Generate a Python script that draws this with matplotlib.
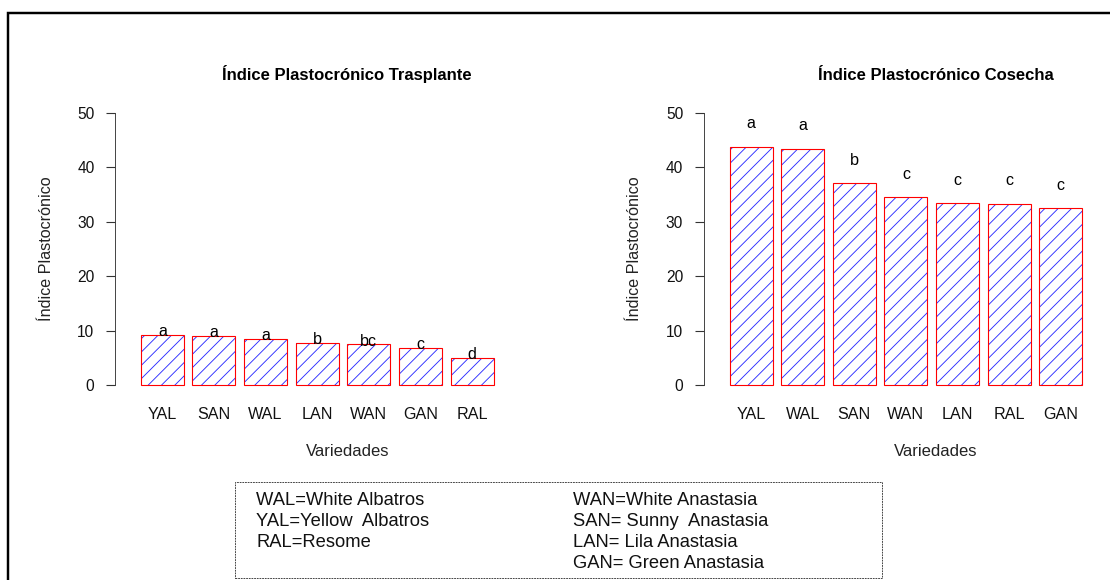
import matplotlib
matplotlib.use("Agg")
import matplotlib.pyplot as plt
from matplotlib.patches import Rectangle

plt.rcParams['font.family'] = ['Liberation Sans', 'DejaVu Sans']
plt.rcParams['hatch.linewidth'] = 0.8

DPI = 80
W, H = 1110, 580

# Transplant stage
trasplante_vars = ['YAL', 'SAN', 'WAL', 'LAN', 'WAN', 'GAN', 'RAL']
trasplante_vals = [9.3, 9.1, 8.5, 7.8, 7.5, 6.9, 5.1]
trasplante_grp = ['a', 'a', 'a', 'b', 'bc', 'c', 'd']

# Harvest stage
cosecha_vars = ['YAL', 'WAL', 'SAN', 'WAN', 'LAN', 'RAL', 'GAN']
cosecha_vals = [43.8, 43.4, 37.1, 34.5, 33.4, 33.3, 32.5]
cosecha_grp = ['a', 'a', 'b', 'c', 'c', 'c', 'c']

key_col1 = ['WAL=White Albatros', 'YAL=Yellow  Albatros', 'RAL=Resome']
key_col2 = ['WAN=White Anastasia', 'SAN= Sunny  Anastasia',
            'LAN= Lila Anastasia', 'GAN= Green Anastasia']


def px_box(x0, y0, x1, y1):
    # pixel box (top-left origin) -> figure fraction [left, bottom, width, height]
    return [x0 / W, 1 - y1 / H, (x1 - x0) / W, (y1 - y0) / H]


def panel(ax, title, names, vals, groups, letter_off):
    lefts = [0.2 + 1.2 * i for i in range(len(vals))]
    centers = [l + 0.5 for l in lefts]
    ax.bar(lefts, vals, width=1, align='edge', color='white',
           edgecolor='#2b2bff', hatch='//', linewidth=0)
    ax.bar(lefts, vals, width=1, align='edge', fill=False,
           edgecolor='red', linewidth=1)
    for c, v, g in zip(centers, vals, groups):
        ax.text(c, v + letter_off, g, ha='center', va='baseline', fontsize=14.5)

    ax.set_xlim(-0.4, 10.4)
    ax.set_ylim(-2, 52)
    ax.set_xticks(centers, names)
    ax.set_yticks(range(0, 51, 10))
    for s in ['top', 'right', 'bottom']:
        ax.spines[s].set_visible(False)
    ax.spines['left'].set_bounds(0, 50)
    ax.spines['left'].set_color('#333333')
    ax.tick_params(axis='x', length=0, pad=10, labelsize=14.5, colors='#111111')
    ax.tick_params(axis='y', length=8.5, pad=10, labelsize=14, width=1,
                   color='#333333', labelcolor='#111111')

    ax.set_title(title, fontweight='bold', fontsize=15, pad=19.8)
    ax.set_ylabel('Índice Plastocrónico', fontsize=14.5, color='#222222')
    ax.yaxis.label.set_va('center')
    ax.yaxis.set_label_coords(-0.148, 0.5)
    ax.set_xlabel('Variedades', fontsize=15, color='#222222')
    ax.xaxis.label.set_va('center')
    ax.xaxis.set_label_coords(0.5, -0.188)


fig = plt.figure(figsize=(W / DPI, H / DPI), dpi=DPI)
ax1 = fig.add_axes(px_box(115, 101.9, 579.6, 396.2))
ax2 = fig.add_axes(px_box(703.7, 101.9, 1168.3, 396.2))

panel(ax1, 'Índice Plastocrónico Trasplante',
      trasplante_vars, trasplante_vals, trasplante_grp, -0.2)
panel(ax2, 'Índice Plastocrónico Cosecha',
      cosecha_vars, cosecha_vals, cosecha_grp, 3.4)

# outer frame
fig.patches.append(Rectangle((7.5 / W, -0.1), 1.2, 1.1 - 12.5 / H,
                             transform=fig.transFigure, fill=False,
                             edgecolor='black', linewidth=2.2))

# abbreviation key
fig.patches.append(Rectangle((235 / W, 1 - 577.5 / H), (882 - 235) / W, 96 / H,
                             transform=fig.transFigure, fill=False,
                             edgecolor='#333333', linewidth=0.8,
                             linestyle=(0, (2, 1))))
row_base = [505, 526, 547, 568]
for col_x, entries in [(256, key_col1), (573, key_col2)]:
    for y, s in zip(row_base, entries):
        fig.text(col_x / W, 1 - y / H, s, ha='left', va='baseline',
                 fontsize=16.5, color='#111111')

fig.savefig('out.png', dpi=DPI)
